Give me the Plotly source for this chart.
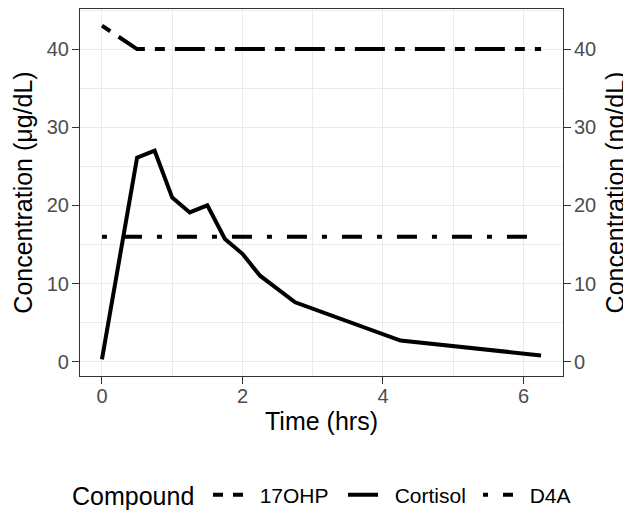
import plotly.graph_objects as go

# ---- data ----
time_hrs = [0, 0.5, 0.75, 1, 1.25, 1.5, 1.75, 2, 2.25, 2.75, 4.25, 6.25]
cortisol = [0.3, 26.1, 27.0, 21.0, 19.1, 20.0, 15.7, 13.8, 11.0, 7.6, 2.7, 0.8]
ohp17 = [43, 40, 40, 40, 40, 40, 40, 40, 40, 40, 40, 40]
d4a = [16, 16, 16, 16, 16, 16, 16, 16, 16, 16, 16, 16]
compounds = ["17OHP", "Cortisol", "D4A"]
x_ticks = [0, 2, 4, 6]
y_ticks = [0, 10, 20, 30, 40]

FONT = "Liberation Sans, Arial, Helvetica, sans-serif"
GRID = "#ebebeb"
BORDER = "#333333"
TICKTXT = "#4d4d4d"
NB = "\u00a0"

fig = go.Figure()
fig.add_trace(go.Scatter(x=time_hrs, y=ohp17, mode="lines", name=NB * 2 + compounds[0],
                         line=dict(color="black", width=4, dash="10px,10px,30px,10px")))
fig.add_trace(go.Scatter(x=time_hrs, y=cortisol, mode="lines", name=NB * 2 + compounds[1],
                         line=dict(color="black", width=4)))
fig.add_trace(go.Scatter(x=time_hrs, y=d4a, mode="lines", name=NB * 2 + compounds[2],
                         line=dict(color="black", width=4, dash="5px,15px,20px,15px")))

xmin, xmax = min(time_hrs), max(time_hrs)
allv = cortisol + ohp17 + d4a
ymin, ymax = min(allv), max(allv)
xr = [xmin - 0.05 * (xmax - xmin), xmax + 0.05 * (xmax - xmin)]
yr = [ymin - 0.05 * (ymax - ymin), ymax + 0.05 * (ymax - ymin)]

axis_common = dict(
    showgrid=True, gridcolor=GRID, gridwidth=1.2, zeroline=False,
    showline=True, linecolor=BORDER, linewidth=1.2,
    ticks="outside", ticklen=7, tickwidth=1.3, tickcolor=BORDER,
    tickfont=dict(family=FONT, size=20, color=TICKTXT),
    automargin=False,
)

# page body has an 8px margin; figure sized so it fits the 631x511 window
W, H = 623, 503
ML, MR, MT, MB = 72, 68, 1, 135
PW, PH = W - ML - MR, H - MT - MB

fig.update_layout(
    width=W, height=H,
    margin=dict(l=ML, r=MR, t=MT, b=MB, autoexpand=False),
    paper_bgcolor="white", plot_bgcolor="white",
    font=dict(family=FONT, color="black"),
    xaxis=dict(range=xr, tickvals=x_ticks, mirror=True, ticklabelstandoff=-5,
               minor=dict(dtick=1, showgrid=True, gridcolor=GRID, gridwidth=0.6),
               title=dict(text="Time (hrs)", font=dict(family=FONT, size=25, color="black"), standoff=6),
               **axis_common),
    yaxis=dict(range=yr, tickvals=y_ticks, mirror=True, ticklabelstandoff=-1,
               minor=dict(dtick=5, showgrid=True, gridcolor=GRID, gridwidth=0.6),
               title=dict(text="Concentration (μg/dL)", font=dict(family=FONT, size=25, color="black"), standoff=6),
               **axis_common),
    yaxis2=dict(range=yr, tickvals=y_ticks, overlaying="y", side="right", matches="y",
                showgrid=False, zeroline=False, showline=False, automargin=False,
                ticks="outside", ticklen=7, tickwidth=1.3, tickcolor=BORDER, ticklabelstandoff=-1,
                tickfont=dict(family=FONT, size=20, color=TICKTXT),
                title=dict(text="Concentration (ng/dL)", font=dict(family=FONT, size=25, color="black"), standoff=11)),
    legend=dict(orientation="h", x=(208 - 8 - ML) / PW, xanchor="left",
                y=(MT + PH - (495 - 8)) / PH, yanchor="middle",
                entrywidth=90, entrywidthmode="pixels",
                font=dict(family=FONT, size=21, color="black"),
                bgcolor="rgba(0,0,0,0)"),
    showlegend=True,
    annotations=[dict(text="Compound", xref="paper", yref="paper",
                      x=(70 - 8 - ML) / PW, xanchor="left",
                      y=(MT + PH - (496 - 8)) / PH, yanchor="middle",
                      showarrow=False, font=dict(family=FONT, size=25, color="black"))],
)
# invisible trace to anchor the secondary axis
fig.add_trace(go.Scatter(x=[None], y=[None], yaxis="y2", showlegend=False, hoverinfo="skip"))

fig.write_html("out.html")
